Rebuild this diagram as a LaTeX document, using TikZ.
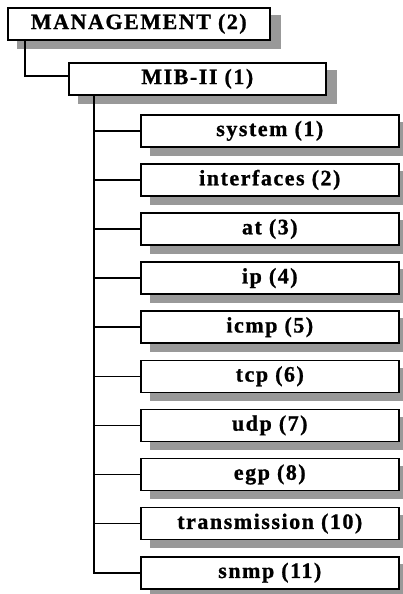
\documentclass[tikz,border=0pt]{standalone}
\usepackage{fontspec}
\newfontfamily\boxfont{Liberation Serif}[BoldFeatures={FakeBold=1}, LetterSpace=7]
\usetikzlibrary{backgrounds}

\tikzset{
  x=1pt, y=1pt,
  mibbox/.style={draw=black, line width=1.6pt, fill=white, anchor=north west,
    inner sep=0pt, minimum height=32pt,
    font=\boxfont\bfseries\fontsize{22}{24}\selectfont},
  boxshadow/.style={fill=black!40},
  link/.style={draw=black, line width=1.6pt},
  trunkline/.style={draw=black, line width=2pt}
}

\begin{document}
\begin{tikzpicture}
  \useasboundingbox (0,0) rectangle (402,-594);
  \clip (0,0) rectangle (402,-594);

  % root of the subtree and the MIB-II group
  \node[mibbox, minimum width=262pt] (mgmt) at (7,-7) {MANAGEMENT (2)};
  \node[mibbox, minimum width=257pt] (mib) at (68,-62) {MIB-II (1)};

  % MIB-II object groups
  \foreach \name/\label [count=\i from 0] in {
      c1/system (1), c2/interfaces (2), c3/at (3), c4/ip (4),
      c5/icmp (5), c6/tcp (6), c7/udp (7), c8/egp (8),
      c9/transmission (10), c10/snmp (11)} {
    \node[mibbox, minimum width=258pt] (\name) at (140,{-114-49.1*\i}) {\label};
  }

  % offset grey shadows behind every box
  \begin{pgfonlayer}{background}
    \foreach \name in {mgmt,mib,c1,c2,c3,c4,c5,c6,c7,c8,c9,c10} {
      \fill[boxshadow] ([shift={(10pt,-8pt)}]\name.south west)
        rectangle ([shift={(10pt,-8pt)}]\name.north east);
    }
  \end{pgfonlayer}

  % MANAGEMENT -> MIB-II
  \draw[link] (mgmt.south west) ++(18pt,0) |- ([yshift=3pt]mib.west);

  % MIB-II trunk and branches
  \path (mib.south west) ++(26pt,0) coordinate (trunk);
  \draw[trunkline] (trunk) |- (c10.west);
  \foreach \name in {c1,c2,c3,c4,c5,c6,c7,c8,c9} {
    \draw[link] (trunk |- \name.west) -- (\name.west);
  }
\end{tikzpicture}
\end{document}
